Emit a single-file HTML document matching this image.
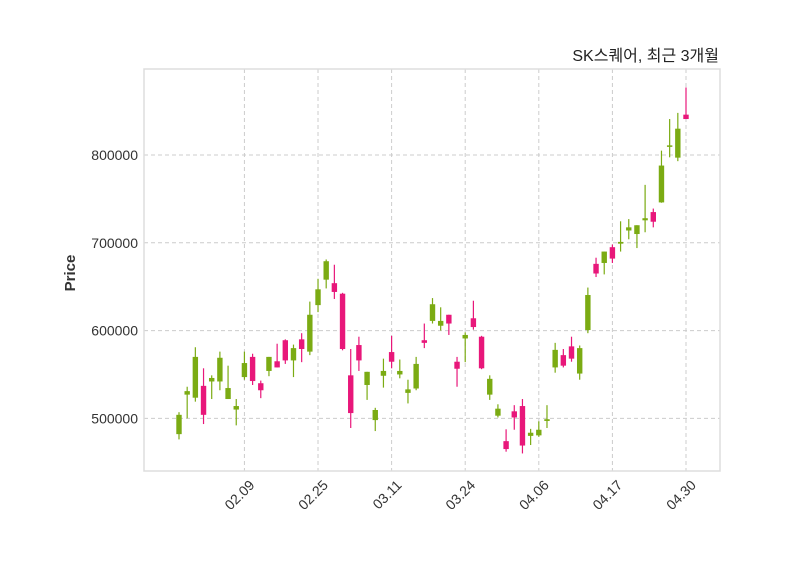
<!DOCTYPE html>
<html><head><meta charset="utf-8"><style>
body{margin:0;background:#fff}
svg{display:block;font-family:"Liberation Sans","Noto Sans CJK KR",sans-serif}
</style></head><body>
<svg id="chart" width="800" height="575" viewBox="0 0 800 575"></svg>
<script>
const opens=[482,527,523.5,537,542,542,522,510,547,570,540,554,565,589,566,590,576,629,658,654,642,549,583.5,538,498,548.5,575.5,550,529,534,589,611,605.5,618,564.5,591,614,593,527,503,474,508,514,480,480.6,497,558,572,582,551,600.6,676,677,695,699,714,710,725.6,735,746,809.5,797,846];
const closes=[504,531,570,504,546,569,534.5,514,563,542.5,532,570,558,566,580,579,618,647,679,644,579,506,566,553,509.5,554,564.5,554,533,562,586,630,611,608,556.5,595,604,557,545,511,465,501,469,483.6,487,499,578,560,568,580,640.5,665,690,682,701,717.6,720,728,724,788,811,830,841];
const highs=[507,536,581,557,549,576,560,522,576,573.6,543,570,585,590,584,597,633,659,681,675,643,579,593,553,512,568,594,567,544,570,608,637,626.5,618,570,598,634,594,549,516,487.5,515,522,488,496.6,515,586,579,593,583,649,683,690,698,724.5,727,720,766,739,805,841,848,877];
const lows=[476,500,519,493.5,522,532,522,492,544,538,523,548,558,562,547,564,572,621,648,636,577.5,489,554,521,485.5,535,557,545.6,517,532,580,608,600,595,536,564,601,556,521,501,462,487,460,469.6,479,489,552,558,564.5,544,597,661,664,677,690,704,694,712,717.6,745.6,797.4,793,841];
const tickIdx=[8,17,26,35,44,53,62];
const tickLabels=["02.09","02.25","03.11","03.24","04.06","04.17","04.30"];
const yTicks=[500000,600000,700000,800000];

const NS="http://www.w3.org/2000/svg";
const svg=document.getElementById('chart');
const L=144,R=720,T=69,B=471,ymin=440,ymax=898;
const x0=179,x1=686;
function xs(i){return x0+(x1-x0)*i/(opens.length-1);}
function ys(v){return B-(v-ymin)/(ymax-ymin)*(B-T);}
function mk(tag,attrs,parent){const e=document.createElementNS(NS,tag);for(const k in attrs)e.setAttribute(k,attrs[k]);(parent||svg).appendChild(e);return e;}

const grid=mk('g',{});


yTicks.forEach(t=>{const y=ys(t/1000);
 const g=mk('line',{x1:L,x2:R,y1:y,y2:y,stroke:'#ccc','stroke-dasharray':'4,3','stroke-width':1},grid);
 
 
 const tx=mk('text',{x:138,y:y+5,'text-anchor':'end','font-size':14,fill:'#333'});
 tx.textContent=String(t);
 
 
});
tickIdx.forEach((idx,k)=>{const x=xs(idx);
 const g=mk('line',{x1:x,x2:x,y1:T,y2:B,stroke:'#ccc','stroke-dasharray':'4,3','stroke-width':1},grid);
 
 
 const tx=mk('text',{x:x+4,y:B+8,'text-anchor':'end','font-size':14,fill:'#333',transform:`rotate(-45 ${x+4} ${B+8})`,dy:'0.7em'});
 tx.textContent=tickLabels[k];
 
 
});
const frame=mk('rect',{x:L,y:T,width:R-L,height:B-T,fill:'none',stroke:'#ddd','stroke-width':1.5});



const cg=mk('g',{});


for(let i=0;i<opens.length;i++){
 const up=closes[i]>=opens[i];const col=up?'#7bab13':'#e8177a';const x=xs(i);
 const w=mk('line',{x1:x,x2:x,y1:ys(highs[i]),y2:ys(lows[i]),stroke:col,'stroke-width':1.2},cg);
 
 
 const top=ys(Math.max(opens[i],closes[i])),bot=ys(Math.min(opens[i],closes[i]));
 const b=mk('rect',{x:x-2.7,y:top,width:5.4,height:Math.max(bot-top,1.5),fill:col},cg);
 
 
}
const yt=mk('text',{x:75,y:273,'text-anchor':'middle','font-size':15,'font-weight':'bold',fill:'#333',transform:'rotate(-90 75 273)'});
yt.textContent='Price';


const tt=mk('text',{x:719,y:61,'text-anchor':'end','font-size':16,fill:'#222'});
tt.textContent='SK스퀘어, 최근 3개월';


</script>
</body></html>
